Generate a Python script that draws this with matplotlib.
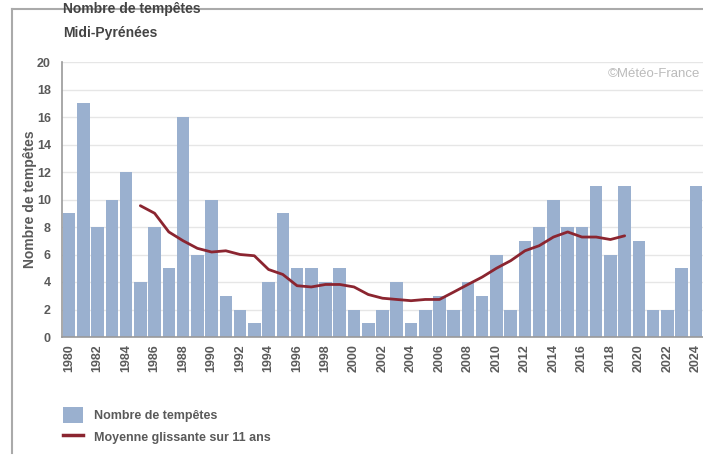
import matplotlib
matplotlib.use("Agg")
import matplotlib.pyplot as plt
from matplotlib.lines import Line2D
from matplotlib.patches import Patch

plt.rcParams['font.family'] = ['Liberation Sans', 'DejaVu Sans']

# storm counts per year, Midi-Pyrénées
years = list(range(1980, 2025))
tempetes = [9, 17, 8, 10, 12, 4, 8, 5, 16, 6,
            10, 3, 2, 1, 4, 9, 5, 5, 4, 5,
            2, 1, 2, 4, 1, 2, 3, 2, 4, 3,
            6, 2, 7, 8, 10, 8, 8, 11, 6, 11,
            7, 2, 2, 5, 11]

# centred 11-year moving average, 1985-2019
ma_years = list(range(1985, 2020))
moyenne = [9.55, 9.00, 7.64, 7.00, 6.45, 6.18, 6.27, 6.00, 5.91, 4.91,
           4.55, 3.73, 3.64, 3.82, 3.82, 3.64, 3.09, 2.82, 2.73, 2.64,
           2.73, 2.73, 3.27, 3.82, 4.36, 5.00, 5.55, 6.27, 6.64, 7.27,
           7.64, 7.27, 7.27, 7.09, 7.36]

bar_color = '#9AB0CF'
line_color = '#8B2530'
text_gray = '#5A5A5A'

fig = plt.figure(figsize=(7.03, 4.55), dpi=100)
ax = fig.add_axes([62 / 703, 1 - 337 / 455, 1 - 62 / 703, 275 / 455])

ax.bar(years, tempetes, width=0.88, color=bar_color, zorder=2)
ax.plot(ma_years, moyenne, color=line_color, lw=2, zorder=3,
        solid_capstyle='round', solid_joinstyle='round')

ax.set_xlim(1979.5, 2024.5)
ax.set_ylim(0, 20)
ax.set_yticks(range(0, 21, 2))
ax.set_xticks(range(1980, 2025, 2))
ax.set_xticklabels([str(y) for y in range(1980, 2025, 2)], rotation=90)
ax.tick_params(axis='both', length=0, labelsize=9, labelcolor=text_gray)
ax.tick_params(axis='y', pad=8)
ax.tick_params(axis='x', pad=5)
for lab in ax.get_xticklabels() + ax.get_yticklabels():
    lab.set_fontweight('bold')

ax.grid(axis='y', color='#E6E6E6', lw=1, zorder=0)
for s in ['top', 'right']:
    ax.spines[s].set_visible(False)
ax.spines['left'].set_color('#999999')
ax.spines['bottom'].set_color('#999999')
ax.spines['left'].set_linewidth(1.2)
ax.spines['bottom'].set_linewidth(1.2)

ax.set_ylabel('Nombre de tempêtes', fontsize=10, fontweight='bold',
              color=text_gray)
ax.yaxis.set_label_coords((37 - 62) / 641, 0.5)

ax.text(0.995, 0.955, '©Météo-France', transform=ax.transAxes, ha='right',
        va='center', fontsize=9.5, color='#BBBBBB')

fig.text(63 / 703, 1 - 9 / 455, 'Nombre de tempêtes', fontsize=10,
         fontweight='bold', color='#444444', va='center')
fig.text(63 / 703, 1 - 33 / 455, 'Midi-Pyrénées', fontsize=10,
         fontweight='bold', color='#444444', va='center')

# outer frame of the original page
fig.add_artist(Line2D([12 / 703, 12 / 703], [2 / 455, 1 - 9 / 455],
                      transform=fig.transFigure, color='#AAAAAA', lw=1.5))
fig.add_artist(Line2D([12 / 703, 1], [1 - 9 / 455, 1 - 9 / 455],
                      transform=fig.transFigure, color='#AAAAAA', lw=1.5))

handles = [Patch(facecolor=bar_color, edgecolor='none'),
           Line2D([0], [0], color=line_color, lw=2.5)]
fig.legend(handles, ['Nombre de tempêtes', 'Moyenne glissante sur 11 ans'],
           loc='upper left', bbox_to_anchor=(52 / 703, 1 - 396 / 455),
           frameon=False, fontsize=9, labelcolor=text_gray,
           handlelength=1.6, handleheight=1.6, labelspacing=0.45,
           handletextpad=0.9)
for t in fig.legends[0].get_texts():
    t.set_fontweight('bold')

fig.savefig('out.png', dpi=100)
